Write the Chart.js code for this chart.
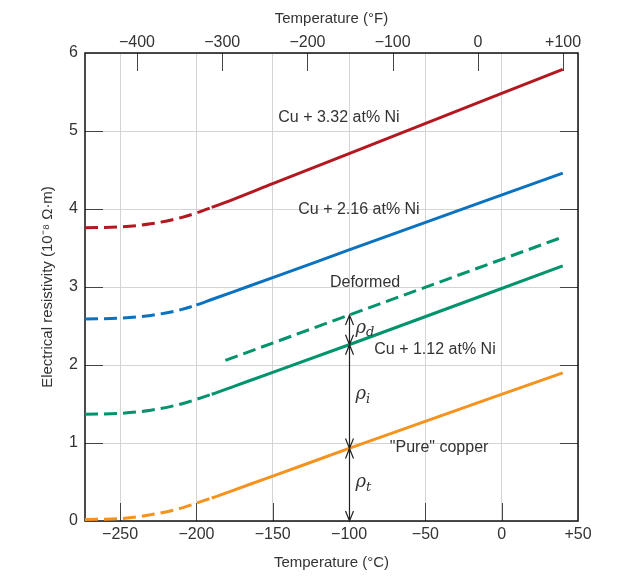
<!DOCTYPE html>
<html>
<head>
<meta charset="utf-8">
<script src="https://cdn.jsdelivr.net/npm/chart.js@4/dist/chart.umd.min.js"></script>
<style>
  html, body { margin: 0; padding: 0; background: #fff; }
</style>
</head>
<body>
<canvas id="chart" width="635" height="582"></canvas>
<script>
// temperatures in °C shared by the four alloy curves
const temps = [-273, -250, -230, -210, -200, -190, -175, -150, -100, 40];
const cu332 = [3.76, 3.77, 3.81, 3.89, 3.95, 4.02, 4.13, 4.325, 4.71, 5.79];
const cu216 = [2.59, 2.60, 2.635, 2.71, 2.77, 2.84, 2.945, 3.12, 3.475, 4.46];
const cu112 = [1.37, 1.38, 1.42, 1.50, 1.56, 1.625, 1.73, 1.905, 2.26, 3.27];
const pureCu = [0.02, 0.03, 0.08, 0.165, 0.23, 0.295, 0.40, 0.575, 0.93, 1.90];
const deformedT = [-181, -100, 40];
const deformed = [2.06, 2.64, 3.64];

const celsiusTicks = [-250, -200, -150, -100, -50, 0, 50];
const fahrenheitTicks = [-400, -300, -200, -100, 0, 100];
const rhoTicks = [0, 1, 2, 3, 4, 5, 6];

const tMin = -273, tMax = 50;
// top °F axis as printed in the figure
const fMin = -461, fMax = 117.5;
const signed = (v) => (v < 0 ? "\u2212" + Math.abs(v) : v > 0 ? "+" + v : "0");
const pts = (xs, ys) => xs.map((x, i) => ({ x: x, y: ys[i] }));
const dash = [13, 6];
const textColor = "#333";

Chart.defaults.font.family = "'Liberation Sans', Arial, sans-serif";
Chart.defaults.color = textColor;

function curve(values, color, brk) {
  return {
    data: pts(temps, values),
    borderColor: color,
    borderWidth: 3,
    pointRadius: 0,
    tension: 0.4,
    cubicInterpolationMode: "monotone",
    segment: {
      borderDash: (ctx) => (ctx.p1.parsed.x <= brk ? dash : undefined),
    },
  };
}

const labels = [
  { text: "Cu + 3.32 at% Ni", t: -106.6, r: 5.17 },
  { text: "Cu + 2.16 at% Ni", t: -93.5, r: 3.99 },
  { text: "Deformed", t: -89.5, r: 3.06 },
  { text: "Cu + 1.12 at% Ni", t: -43.7, r: 2.2 },
  { text: "\"Pure\" copper", t: -41, r: 0.94 },
];

const frame = {
  id: "frame",
  beforeDatasetsDraw(chart) {
    const { ctx, chartArea: a, scales } = chart;
    const L = 18;
    ctx.save();
    ctx.strokeStyle = "#444";
    ctx.lineWidth = 1;
    ctx.beginPath();
    celsiusTicks.forEach((v) => {
      const x = Math.round(scales.x.getPixelForValue(v)) + 0.5;
      if (x > a.left + 2 && x < a.right - 2) { ctx.moveTo(x, a.bottom); ctx.lineTo(x, a.bottom - L); }
    });
    fahrenheitTicks.forEach((v) => {
      const x = Math.round(scales.x2.getPixelForValue(v)) + 0.5;
      if (x > a.left + 2 && x < a.right - 2) { ctx.moveTo(x, a.top); ctx.lineTo(x, a.top + L); }
    });
    rhoTicks.forEach((v) => {
      const y = Math.round(scales.y.getPixelForValue(v)) + 0.5;
      if (y > a.top + 2 && y < a.bottom - 2) {
        ctx.moveTo(a.left, y); ctx.lineTo(a.left + L, y);
        ctx.moveTo(a.right, y); ctx.lineTo(a.right - L, y);
      }
    });
    ctx.stroke();
    ctx.strokeStyle = "#111";
    ctx.lineWidth = 1.5;
    ctx.strokeRect(a.left, a.top, a.right - a.left, a.bottom - a.top);
    ctx.restore();
  },
};

const notes = {
  id: "notes",
  afterDatasetsDraw(chart) {
    const { ctx, scales } = chart;
    const sx = scales.x, sy = scales.y;
    ctx.save();
    ctx.fillStyle = textColor;
    ctx.font = "16px 'Liberation Sans', Arial, sans-serif";
    ctx.textAlign = "center";
    ctx.textBaseline = "middle";
    labels.forEach((l) => ctx.fillText(l.text, sx.getPixelForValue(l.t), sy.getPixelForValue(l.r)));

    // ρ arrows at -100 °C
    const at = -100;
    const levels = [
      deformed[deformedT.indexOf(at)],
      cu112[temps.indexOf(at)],
      pureCu[temps.indexOf(at)],
      0,
    ].map((v) => sy.getPixelForValue(v));
    const x = Math.round(sx.getPixelForValue(at)) + 0.5;
    ctx.strokeStyle = "#222";
    ctx.lineWidth = 1.2;
    ctx.beginPath();
    ctx.moveTo(x, levels[0]);
    ctx.lineTo(x, levels[3]);
    for (let i = 0; i < 3; i++) {
      const y0 = levels[i], y1 = levels[i + 1];
      ctx.moveTo(x - 4, y0 + 10); ctx.lineTo(x, y0); ctx.lineTo(x + 4, y0 + 10);
      ctx.moveTo(x - 4, y1 - 10); ctx.lineTo(x, y1); ctx.lineTo(x + 4, y1 - 10);
    }
    ctx.stroke();

    const subs = ["d", "i", "t"];
    ctx.textAlign = "left";
    ctx.textBaseline = "middle";
    for (let i = 0; i < 3; i++) {
      const ym = (levels[i] + levels[i + 1]) / 2;
      ctx.font = "italic 18px 'DejaVu Serif', 'Liberation Serif', serif";
      ctx.fillText("\u03C1", x + 6, ym - 2);
      const w = ctx.measureText("\u03C1").width;
      ctx.font = "italic 13px 'DejaVu Serif', 'Liberation Serif', serif";
      ctx.fillText(subs[i], x + 6 + w, ym + 3);
    }
    ctx.restore();
  },
};

const config = {
  type: "line",
  data: {
    datasets: [
      curve(cu332, "#b3171f", -190),
      curve(cu216, "#0a72bf", -200),
      curve(cu112, "#00946c", -190),
      curve(pureCu, "#f6921e", -190),
      {
        data: pts(deformedT, deformed),
        borderColor: "#00946c",
        borderWidth: 3,
        borderDash: dash,
        pointRadius: 0,
      },
    ],
  },
  options: {
    responsive: false,
    animation: false,
    layout: { padding: { left: 39, right: 57, top: 10, bottom: 10 } },
    plugins: { legend: { display: false }, tooltip: { enabled: false }, title: { display: false } },
    scales: {
      x: {
        type: "linear",
        position: "bottom",
        min: tMin,
        max: tMax,
        afterBuildTicks: (s) => { s.ticks = celsiusTicks.map((v) => ({ value: v })); },
        afterFit: (s) => { s.height = 51; },
        grid: { color: "#d4d4d4", lineWidth: 1, drawTicks: false },
        border: { display: false },
        ticks: { padding: 4, font: { size: 16 }, color: textColor, callback: (v) => signed(v), maxRotation: 0 },
        title: { display: true, text: "Temperature (\u00B0C)", font: { size: 15 }, color: textColor, padding: 0 },
      },
      x2: {
        type: "linear",
        position: "top",
        min: fMin,
        max: fMax,
        afterBuildTicks: (s) => { s.ticks = fahrenheitTicks.map((v) => ({ value: v })); },
        afterFit: (s) => { s.height = 43; },
        grid: { display: false, drawTicks: false },
        border: { display: false },
        ticks: { padding: 1, font: { size: 16 }, color: textColor, callback: (v) => signed(v), maxRotation: 0 },
        title: { display: true, text: "Temperature (\u00B0F)", font: { size: 15 }, color: textColor, padding: 0 },
      },
      y: {
        type: "linear",
        min: 0,
        max: 6,
        afterBuildTicks: (s) => { s.ticks = rhoTicks.map((v) => ({ value: v })); },
        afterFit: (s) => { s.width = 46; },
        grid: { color: "#d4d4d4", lineWidth: 1, drawTicks: false },
        border: { display: false },
        ticks: { padding: 7, font: { size: 16 }, color: textColor },
        title: { display: true, text: "Electrical resistivity (10\u207B\u2078 \u03A9\u00B7m)", font: { size: 15 }, color: textColor, padding: 0 },
      },
    },
  },
  plugins: [frame, notes],
};

new Chart(document.getElementById("chart").getContext("2d"), config);
</script>
</body>
</html>
